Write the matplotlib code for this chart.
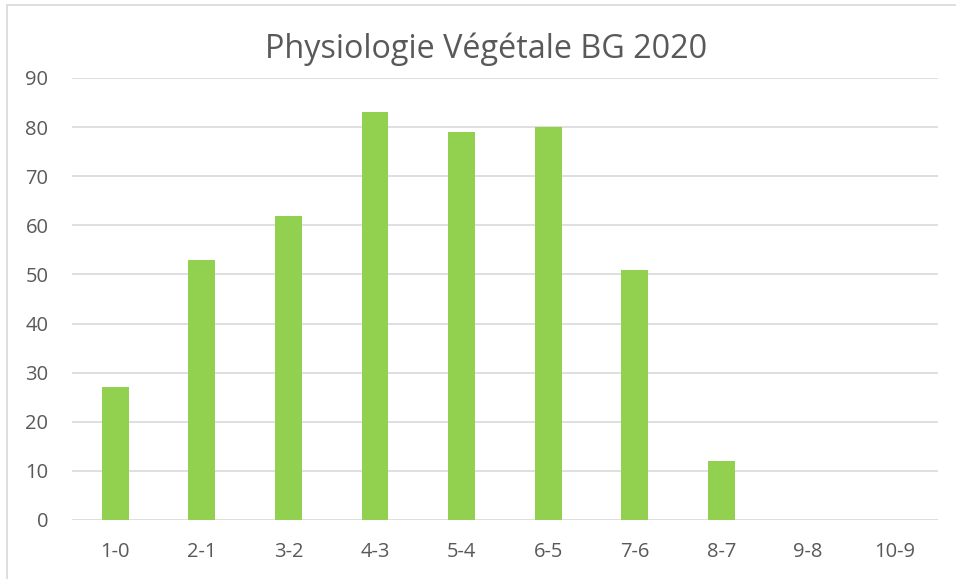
import matplotlib.pyplot as plt
from matplotlib.patches import Rectangle

# donnees du graphique
categories = ['1-0', '2-1', '3-2', '4-3', '5-4', '6-5', '7-6', '8-7', '9-8', '10-9']
effectifs = [27, 53, 62, 83, 79, 80, 51, 12, 0, 0]
yticks = list(range(0, 100, 10))

plt.rcParams['font.family'] = ['Open Sans', 'DejaVu Sans']

fig = plt.figure(figsize=(9.56, 5.79), dpi=100)
ax = fig.add_axes([0.0753, 0.1019, 0.9057, 0.7634])

x = range(len(categories))
ax.bar(x, effectifs, width=0.31, color='#92D050', zorder=3)

ax.set_xlim(-0.5, len(categories) - 0.5)
ax.set_ylim(0, 90)
ax.set_yticks(yticks)
ax.set_xticks(list(x))
ax.set_xticklabels(categories)
ax.grid(axis='y', color='#D9D9D9', linewidth=1.2, zorder=0)
for s in ax.spines.values():
    s.set_visible(False)
ax.tick_params(length=0, labelsize=14.5, colors='#595959')
ax.tick_params(axis='x', pad=16)
ax.tick_params(axis='y', pad=17)

fig.text(0.508, 0.915, 'Physiologie Végétale BG 2020', ha='center', va='center',
         fontsize=23.3, color='#595959')

# cadre du graphique (bas et droite hors image)
fig.patches.append(Rectangle((7 / 956, -0.2), 1.2, 1.2 - 5 / 579, transform=fig.transFigure,
                             fill=False, edgecolor='#D9D9D9', linewidth=1.2))

fig.savefig('out.png', dpi=100)
